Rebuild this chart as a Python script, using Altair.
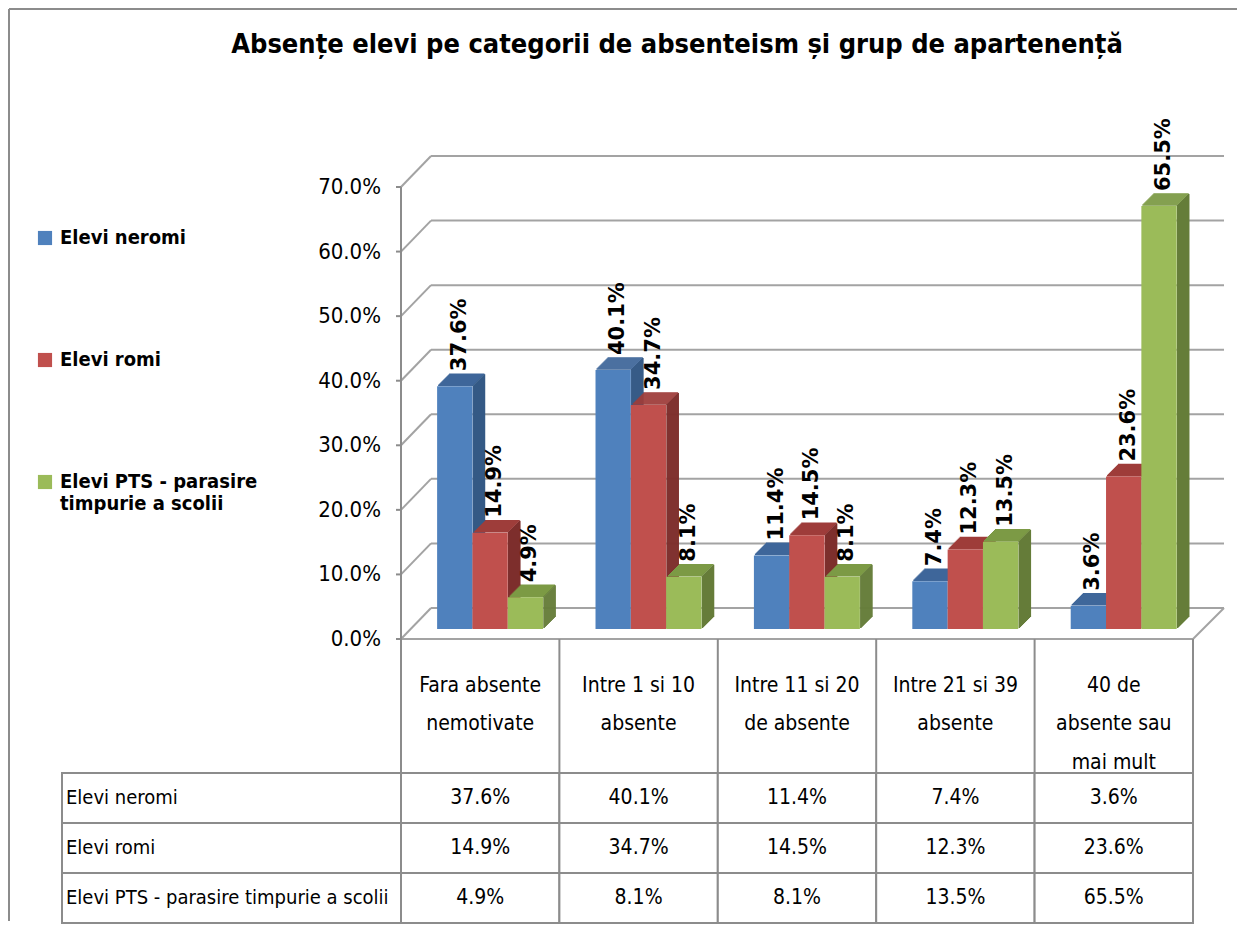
import altair as alt
import pandas as pd

# ---------------- data ----------------
title_text = "Absențe elevi pe categorii  de absenteism și grup de apartenență"
categories = ["Fara absente nemotivate", "Intre 1 si 10 absente", "Intre 11 si 20 de absente",
              "Intre 21 si 39 absente", "40 de absente sau mai mult"]
category_lines = [["Fara absente", "nemotivate"], ["Intre 1 si 10", "absente"],
                  ["Intre 11 si 20", "de absente"], ["Intre 21 si 39", "absente"],
                  ["40 de", "absente sau", "mai mult"]]
series = ["Elevi neromi", "Elevi romi", "Elevi PTS - parasire timpurie a scolii"]
legend_lines = [["Elevi neromi"], ["Elevi romi"], ["Elevi PTS - parasire", "timpurie a scolii"]]
neromi = [37.6, 40.1, 11.4, 7.4, 3.6]
romi = [14.9, 34.7, 14.5, 12.3, 23.6]
pts = [4.9, 8.1, 8.1, 13.5, 65.5]
y_ticks = [0, 10, 20, 30, 40, 50, 60, 70]

# ---------------- styles ----------------
front_colors = ["#4F81BD", "#C0504D", "#9BBB59"]
top_colors = ["#3F679A", "#9E3D3A", "#7C9A45"]
side_colors = ["#355A86", "#7E2F2D", "#667D3A"]
NARROW = "Liberation Sans Narrow, DejaVu Sans Condensed, Roboto Condensed, Liberation Sans"
WIDE = "DejaVu Sans, Verdana"
GRID = "#a3a3a3"
LINE = "#8c8c8c"

COL_PX = 158.4               # px per category column
XL = -339 / COL_PX           # left edge of table label column (column units)
W_TOTAL = 1131
H_PLOT = 452
DEPTH = 12                   # 3-D bar depth in px
BASE = 10                    # bars sit back from the floor's front edge

xs = alt.Scale(domain=[XL, 5], nice=False, zero=False)
ys = alt.Scale(domain=[0, 70], nice=False)

rows = []
for ci in range(len(categories)):
    for sj, vals in enumerate([neromi, romi, pts]):
        rows.append({"cat": categories[ci], "ci": ci, "series": series[sj], "sj": sj,
                     "value": vals[ci], "top_c": top_colors[sj], "side_c": side_colors[sj]})
df = pd.DataFrame(rows)
ticks_df = pd.DataFrame({"v": y_ticks})
one = pd.DataFrame({"a": [0]})

bars = alt.Chart(df).transform_calculate(
    x0="datum.ci + 0.228 + datum.sj * 0.223",
    x1="datum.ci + 0.228 + (datum.sj + 1) * 0.223",
    xc="datum.ci + 0.228 + (datum.sj + 0.5) * 0.223",
    lbl="format(datum.value, '.1f') + '%'",
)

def X(f):
    return alt.X(f, type="quantitative", scale=xs, axis=None)

def Y(f):
    return alt.Y(f, type="quantitative", scale=ys, axis=None)

def XD(v):
    return alt.XDatum(v, scale=xs, axis=None)

def YD(v):
    return alt.YDatum(v, scale=ys, axis=None)

layers = []

# back wall gridlines
layers.append(alt.Chart(ticks_df).mark_rule(color=GRID, strokeWidth=2, xOffset=30, x2Offset=31,
                                            yOffset=-31).encode(
    x=XD(0), x2=alt.X2Datum(5), y=Y("v")))
# left wall diagonals
layers.append(alt.Chart(ticks_df).mark_rule(color=GRID, strokeWidth=2, x2Offset=30,
                                            y2Offset=-31).encode(
    x=XD(0), x2=alt.X2Datum(0), y=Y("v"), y2="v"))
# floor front edge and right diagonal
layers.append(alt.Chart(one).mark_rule(color=GRID, strokeWidth=2).encode(
    x=XD(0), x2=alt.X2Datum(5), y=YD(0)))
layers.append(alt.Chart(one).mark_rule(color=GRID, strokeWidth=2, x2Offset=31, y2Offset=-31).encode(
    x=XD(5), x2=alt.X2Datum(5), y=YD(0), y2=alt.Y2Datum(0)))

# value axis (front left edge): line, ticks, labels
layers.append(alt.Chart(one).mark_rule(color=LINE, strokeWidth=2).encode(
    x=XD(0), y=YD(0), y2=alt.Y2Datum(70)))
layers.append(alt.Chart(ticks_df).mark_rule(color=LINE, strokeWidth=2, xOffset=-5).encode(
    x=XD(0), x2=alt.X2Datum(0), y=Y("v")))
layers.append(alt.Chart(ticks_df).transform_calculate(
    t="format(datum.v, '.1f') + '%'").mark_text(
    font=NARROW, fontSize=22, align="right", baseline="middle", xOffset=-20, color="black").encode(
    x=XD(0), y=Y("v"), text="t:N"))

# 3-D faces of the bars
for k in range(DEPTH, 0, -1):
    layers.append(bars.mark_rule(strokeWidth=1.6, xOffset=k, x2Offset=k, yOffset=-BASE - k).encode(
        x=X("x0"), x2="x1", y=Y("value"), color=alt.Color("top_c:N", scale=None)))
    layers.append(bars.mark_rule(strokeWidth=1.6, xOffset=k, yOffset=-BASE - k,
                                 y2Offset=-BASE - k).encode(
        x=X("x1"), y=Y("value"), y2=alt.Y2Datum(0), color=alt.Color("side_c:N", scale=None)))

legend_expr = " : ".join(
    [f"datum.label == '{s}' ? {lines!r}" for s, lines in zip(series, legend_lines)]) + " : datum.label"
legend = alt.Legend(title=None, orient="none", legendX=-27, legendY=41, symbolType="square",
                    symbolSize=200, symbolStrokeWidth=0, labelFont=NARROW, labelFontSize=20,
                    labelFontWeight="bold", labelColor="black", labelOffset=5, rowPadding=102,
                    labelLimit=400, labelExpr=legend_expr)
layers.append(bars.mark_bar(yOffset=-BASE, y2Offset=-BASE).encode(
    x=X("x0"), x2="x1", y=Y("value"), y2=alt.Y2Datum(0),
    color=alt.Color("series:N", scale=alt.Scale(domain=series, range=front_colors), legend=legend)))

# value labels
layers.append(bars.mark_text(font=WIDE, fontWeight="bold", fontSize=21, angle=270, align="left",
                             baseline="middle", xOffset=5, yOffset=-BASE - DEPTH - 3,
                             color="black").encode(
    x=X("xc"), y=Y("value"), text="lbl:N"))

# title and outer frame
layers.append(alt.Chart(pd.DataFrame({"t": [title_text]})).mark_text(
    font=NARROW, fontWeight="bold", fontSize=27, align="center", baseline="middle",
    xOffset=276, yOffset=-142, color="black").encode(
    x=XD(0), y=YD(70), text="t:N"))
layers.append(alt.Chart(one).mark_rule(color=LINE, strokeWidth=2, xOffset=-53, x2Offset=44,
                                       yOffset=-178).encode(
    x=XD(XL), x2=alt.X2Datum(5), y=YD(70)))
layers.append(alt.Chart(one).mark_rule(color=LINE, strokeWidth=2, xOffset=-53, yOffset=-178,
                                       y2Offset=282).encode(
    x=XD(XL), y=YD(70), y2=alt.Y2Datum(0)))

top = alt.layer(*layers).properties(width=W_TOTAL, height=H_PLOT)

# ---------------- table header ----------------
hdr_rows = []
for ci, lines in enumerate(category_lines):
    for li, t in enumerate(lines):
        hdr_rows.append({"ci": ci, "li": li, "t": t})
hdr_df = pd.DataFrame(hdr_rows)
sep_df = pd.DataFrame({"c": list(range(len(categories) + 1))})

header = alt.layer(
    alt.Chart(sep_df).mark_rule(color=LINE, strokeWidth=2).encode(x=X("c")),
    alt.Chart(hdr_df).transform_calculate(xc="datum.ci + 0.5").mark_text(
        font=NARROW, fontSize=21, align="center", baseline="middle", color="black").encode(
        x=X("xc"),
        y=alt.Y("li:Q", scale=alt.Scale(domain=[-1.22, 2.26], reverse=True, nice=False, zero=False),
                axis=None),
        text="t:N"),
).properties(width=W_TOTAL, height=134)

# ---------------- table body ----------------
cell_rows = []
for sj, vals in enumerate([neromi, romi, pts]):
    cell_rows.append({"row": series[sj], "c0": XL, "c1": 0, "t": series[sj], "kind": "label"})
    for ci, v in enumerate(vals):
        cell_rows.append({"row": series[sj], "c0": ci, "c1": ci + 1, "t": f"{v:.1f}%",
                          "kind": "value"})
cell_df = pd.DataFrame(cell_rows)
ry = alt.Y("row:N", sort=series, scale=alt.Scale(paddingInner=0, paddingOuter=0), axis=None)
cells = alt.Chart(cell_df)
body = alt.layer(
    cells.mark_rect(fill="white", stroke=LINE, strokeWidth=2).encode(x=X("c0"), x2="c1", y=ry),
    cells.transform_filter("datum.kind == 'value'").transform_calculate(
        xc="(datum.c0 + datum.c1) / 2").mark_text(
        font=NARROW, fontSize=21, align="center", baseline="middle", color="black").encode(
        x=X("xc"), y=ry, text="t:N"),
    cells.transform_filter("datum.kind == 'label'").mark_text(
        font=NARROW, fontSize=20, align="left", baseline="middle", xOffset=4, color="black").encode(
        x=X("c0"), y=ry, text="t:N"),
).properties(width=W_TOTAL, height=150)

chart = alt.vconcat(top, header, body, spacing=0, bounds="flush").configure_view(
    stroke=None).properties(padding={"left": 0, "top": 0, "right": 0, "bottom": 0},
                            background="white")

chart.save("out.html", embed_options={"renderer": "svg", "actions": False})
